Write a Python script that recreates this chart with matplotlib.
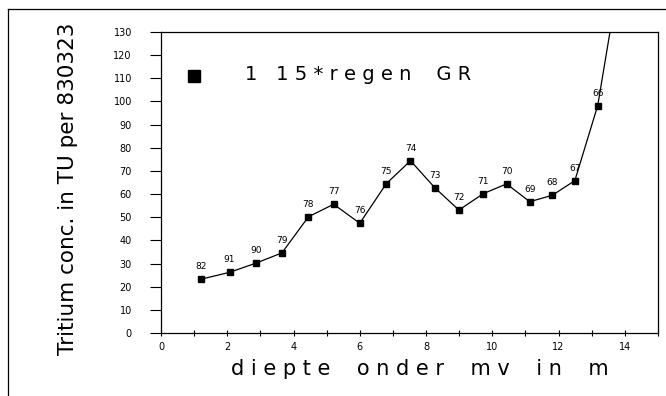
import matplotlib
matplotlib.use('Agg')
import matplotlib.pyplot as plt
from matplotlib.lines import Line2D

# depth below ground level (m) and tritium (TU)
depth=[1.20,2.07,2.87,3.65,4.45,5.21,6.00,6.80,7.53,8.26,8.99,9.73,10.43,11.13,11.81,12.49,13.18,13.90]
tritium=[23.2,26.2,30.2,34.6,50.2,55.6,47.4,64.5,74.4,62.8,53.1,60.2,64.4,56.7,59.5,65.8,98.2,160.0]
# sample numbers written next to the points (last point is off the chart)
sample=['82','91','90','79','78','77','76','75','74','73','72','71','70','69','68','67','66']

def spaced(s,gap=' '):
	return gap.join(s)

fig=plt.figure(figsize=(6.66,3.96),dpi=100)
ax=fig.add_axes([161/666,1-333/396,(658-161)/666,(333-32)/396])

ax.plot(depth,tritium,color='black',lw=0.9,marker='s',ms=4,mfc='black',mec='black',clip_on=True)
for x,y,s in zip(depth,tritium,sample):
	ax.annotate(s,(x,y),xytext=(0,9),textcoords='offset points',ha='center',va='center',fontsize=6.5)

# legend entry as drawn on the original plot
ax.plot([1.0],[111],marker='s',ms=8,color='black',ls='none')
ax.text(2.55,111.5,'1   '+spaced('15*regen')+'    '+spaced('GR'),fontsize=14,va='center',ha='left')

ax.set_xlim(0,15)
ax.set_ylim(0,130)
ax.set_xticks(range(0,16))
ax.set_xticklabels([str(i) if i%2==0 and i<15 else '' for i in range(0,16)])
ax.set_yticks(range(0,131,10))
ax.tick_params(axis='x',direction='inout',length=5,width=0.8,labelsize=7,pad=4)
ax.tick_params(axis='y',direction='out',length=8,width=0.8,labelsize=7,pad=13)
for sp in ax.spines.values():
	sp.set_linewidth(0.9)

gap='    '
ax.set_xlabel(gap.join([spaced('diepte'),spaced('onder'),spaced('mv'),spaced('in'),'m']),fontsize=15,labelpad=3)
ax.xaxis.set_label_coords(0.52,-0.085)
ax.set_ylabel('Tritium conc. in TU per 830323',fontsize=15.5,labelpad=17)
ax.yaxis.set_label_coords(-0.168,0.48)

# outer page frame
fig.add_artist(Line2D([8/666,1],[1-9/396,1-9/396],color='black',lw=0.9))
fig.add_artist(Line2D([8/666,8/666],[0,1-9/396],color='black',lw=0.9))

fig.savefig('out.png',dpi=100)
